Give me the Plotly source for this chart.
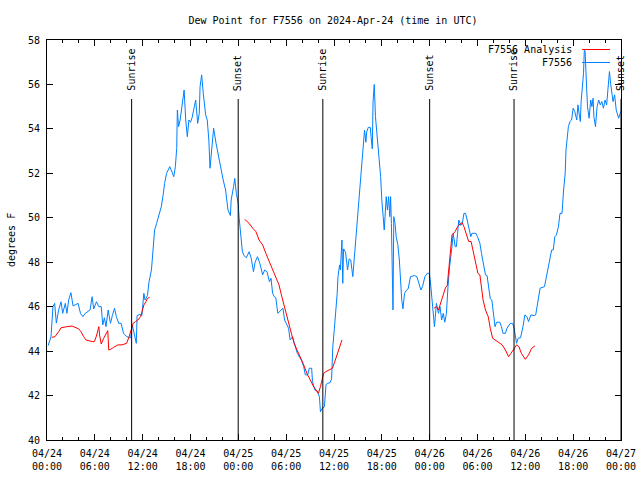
import pandas as pd
import plotly.graph_objects as go

BASE = pd.Timestamp("2024-04-24 00:00")

# Observations (hours since 2024-04-24 00:00 UTC, degrees F)
obs_hours = [0.15, 0.5, 0.75, 0.96, 1.17, 1.46, 1.76, 1.97, 2.3, 2.5, 2.72, 3.0, 3.27, 3.9, 4.2, 4.5, 4.8,
             5.4, 5.66, 5.86, 6.2, 6.5, 6.8, 7.0, 7.2, 7.4, 7.67, 7.96, 8.2, 8.47, 8.7, 9.0, 9.3, 9.6,
             10.0, 10.5, 10.7, 11.0, 11.2, 11.3, 11.65, 11.9, 12.15, 12.3, 12.6, 12.8, 13.1, 13.3, 13.5,
             13.75, 14.04, 14.34, 14.6, 14.75, 15.0, 15.4, 15.7, 15.9, 16.1, 16.27, 16.35, 16.5, 16.7,
             17.0, 17.2, 17.4, 17.6, 17.8, 18.0, 18.2, 18.4, 18.65, 18.9, 19.1, 19.2, 19.4, 19.6, 19.9,
             20.1, 20.3, 20.45, 20.6, 20.9, 21.2, 21.5, 21.8, 22.1, 22.4, 22.7, 23.0, 23.1, 23.4, 23.55,
             23.75, 23.98, 24.1, 24.3, 24.5, 24.7, 25.0, 25.35, 25.6, 25.9, 26.1, 26.4, 26.7, 27.05,
             27.3, 27.6, 27.9, 28.1, 28.3, 28.5, 28.7, 28.95, 29.3, 29.6, 29.8, 30.0, 30.3, 30.5, 30.8,
             31.2, 31.4, 31.9, 32.2, 32.4, 32.7, 32.9, 33.2, 33.3, 33.6, 33.9, 34.17, 34.3, 34.45, 34.8,
             35.0, 35.2, 35.5, 35.7, 35.85, 36.05, 36.26, 36.4, 36.5, 36.7, 36.8, 37.0, 37.1, 37.2,
             37.45, 37.7, 37.9, 38.1, 38.36, 38.6, 38.8, 38.95, 39.1, 39.3, 39.4, 39.6, 39.7, 39.83,
             40.0, 40.1, 40.3, 40.55, 40.65, 40.8, 40.9, 41.05, 41.2, 41.4, 41.6, 41.7, 41.85, 42.0,
             42.15, 42.3, 42.4, 42.55, 42.7, 42.85, 43.0, 43.1, 43.2, 43.3, 43.4, 43.5, 43.65, 43.8,
             44.0, 44.2, 44.35, 44.5, 44.65, 44.85, 45.1, 45.3, 45.6, 46.1, 46.4, 46.6, 46.9, 47.1,
             47.4, 47.7, 47.95, 48.1, 48.2, 48.35, 48.5, 48.6, 48.85, 49.1, 49.3, 49.5, 49.7, 49.9,
             50.1, 50.3, 50.5, 50.8, 50.95, 51.2, 51.35, 51.5, 51.65, 51.9, 52.1, 52.3, 52.5, 52.7,
             52.9, 53.16, 53.3, 53.8, 54.0, 54.3, 54.5, 54.7, 55.0, 55.2, 55.35, 55.6, 55.8, 55.9,
             56.1, 56.2, 56.4, 56.8, 57.0, 57.2, 57.5, 57.7, 58.1, 58.4, 58.6, 58.8, 58.9, 59.1, 59.4,
             59.7, 59.95, 60.2, 60.4, 60.7, 61.1, 61.3, 61.6, 61.85, 62.4, 62.7, 62.9, 63.1, 63.3,
             63.5, 63.7, 63.9, 64.15, 64.35, 64.6, 64.8, 65.0, 65.1, 65.3, 65.4, 65.6, 65.8, 66.0,
             66.2, 66.45, 66.6, 66.8, 66.9, 67.0, 67.3, 67.4, 67.5, 67.7, 67.8, 68.0, 68.2, 68.35,
             68.5, 68.6, 68.8, 69.0, 69.2, 69.4, 69.6, 69.8, 70.0, 70.2, 70.4, 70.55, 70.7, 70.9,
             71.0, 71.2, 71.4, 71.7, 71.85, 72.0]
obs_values = [44.25, 44.65, 46.0, 46.15, 45.26, 45.85, 46.22, 45.7, 46.15, 45.7, 46.3, 46.63, 46.03, 46.15,
              45.7, 45.55, 45.7, 45.85, 46.45, 45.9, 46.22, 46.0, 46.0, 45.18, 45.5, 45.1, 45.85, 45.25,
              45.6, 45.93, 45.55, 45.25, 45.25, 44.8, 44.65, 44.6, 45.18, 44.75, 44.35, 45.6, 45.65,
              45.6, 46.6, 46.3, 46.5, 47.12, 47.65, 48.55, 49.45, 49.75, 50.13, 50.5, 51.1, 51.55, 52.0,
              52.3, 52.05, 51.85, 52.3, 53.12, 54.85, 54.1, 54.4, 55.15, 55.75, 54.4, 53.65, 54.4, 54.3,
              54.5, 54.85, 55.3, 54.25, 54.7, 55.9, 56.43, 55.6, 54.63, 54.4, 53.5, 52.23, 52.9, 54.03,
              53.36, 52.75, 52.15, 51.7, 51.25, 50.35, 50.1, 50.8, 51.4, 51.77, 51.1, 50.65, 50.0, 49.3,
              48.5, 48.3, 48.2, 48.47, 48.2, 47.57, 48.0, 48.25, 47.95, 47.43, 47.65, 47.57, 47.12,
              47.28, 46.6, 46.45, 46.4, 45.7, 45.85, 45.93, 45.4, 45.25, 45.03, 44.5, 44.65, 44.13,
              43.9, 43.6, 43.3, 42.93, 42.93, 43.23, 43.23, 42.63, 42.25, 42.2, 41.95, 41.27, 41.4,
              41.5, 42.5, 42.55, 42.58, 42.75, 44.2, 45.03, 45.8, 46.6, 47.35, 47.88, 47.65, 49.0,
              47.05, 48.6, 48.45, 47.65, 48.15, 48.1, 47.35, 48.5, 49.3, 50.0, 50.8, 51.4, 52.15, 52.83,
              53.5, 53.95, 53.4, 53.86, 54.07, 54.07, 53.65, 53.1, 55.23, 56.0, 54.55, 53.8, 53.05,
              52.68, 51.85, 50.8, 50.05, 49.45, 50.05, 50.95, 50.35, 50.95, 50.05, 50.95, 49.75, 47.2,
              45.85, 50.05, 49.75, 49.15, 48.8, 48.1, 46.9, 46.3, 45.9, 46.6, 46.75, 46.8, 47.35, 47.4,
              47.35, 47.1, 46.75, 46.9, 47.35, 47.5, 47.5, 47.1, 46.6, 45.85, 45.5, 45.1, 46.15, 45.7,
              46.0, 45.4, 45.7, 45.3, 45.7, 46.9, 47.8, 48.7, 49.3, 48.7, 48.7, 49.3, 49.9, 49.66,
              49.75, 50.2, 50.2, 49.9, 49.6, 49.15, 49.3, 49.3, 49.15, 48.85, 48.4, 48.02, 47.43, 47.4,
              46.9, 46.36, 46.3, 46.0, 45.4, 45.1, 45.3, 45.3, 45.1, 44.8, 44.8, 45.03, 45.25, 45.25,
              45.03, 44.5, 44.35, 44.58, 44.6, 45.1, 45.63, 45.55, 45.33, 45.63, 45.6, 45.63, 46.3,
              46.83, 46.9, 47.5, 47.8, 48.25, 48.55, 48.55, 49.15, 49.23, 49.6, 50.2, 50.2, 51.25, 52.0,
              53.05, 53.65, 54.1, 54.33, 54.4, 54.93, 54.78, 54.4, 55.08, 54.55, 54.33, 55.23, 56.5,
              57.55, 57.48, 55.75, 55.0, 54.48, 55.3, 55.0, 55.38, 54.55, 54.1, 55.0, 55.3, 55.08,
              55.23, 54.93, 55.3, 55.08, 55.9, 56.58, 56.05, 55.45, 55.23, 55.53, 54.85, 54.48, 54.63,
              54.8]

# Analysis segments (hours since 2024-04-24 00:00 UTC, degrees F)
ana1_hours = [0.6, 1.0, 1.46, 1.76, 2.5, 3.14, 3.98, 4.27, 4.6, 4.9, 5.66, 5.95, 6.2, 6.5, 6.6, 6.8, 7.1,
              7.45, 7.62, 7.75, 8.0, 8.35, 8.9, 9.4, 9.98, 10.3, 10.56, 10.8, 11.1, 11.4, 11.74, 11.95,
              12.16, 12.4, 12.6, 12.87]
ana1_values = [44.62, 44.65, 44.87, 45.05, 45.1, 45.13, 45.0, 44.87, 44.65, 44.5, 44.43, 44.43, 44.68,
               45.1, 44.72, 44.32, 44.57, 44.82, 44.92, 44.05, 44.08, 44.17, 44.28, 44.28, 44.35, 44.65,
               44.98, 45.25, 45.33, 45.4, 45.55, 45.78, 46.08, 46.22, 46.37, 46.42]
ana2_hours = [24.8, 25.35, 25.8, 26.2, 26.6, 27.05, 27.45, 27.9, 28.3, 28.7, 29.1, 29.4, 29.77, 30.1, 30.4,
              30.7, 31.0, 31.4, 31.8, 32.2, 32.6, 33.0, 33.45, 33.75, 34.04, 34.3, 34.5, 34.7, 35.0,
              35.4, 35.8, 36.1, 36.4, 36.7, 37.0]
ana2_values = [49.93, 49.75, 49.53, 49.38, 49.0, 48.78, 48.4, 48.02, 47.65, 47.35, 46.98, 46.53, 46.0,
               45.48, 45.1, 44.73, 44.35, 44.05, 43.75, 43.38, 43.0, 42.7, 42.4, 42.25, 42.1, 42.4,
               42.7, 43.0, 43.08, 43.15, 43.23, 43.53, 43.83, 44.13, 44.5]
ana3_hours = [48.55, 48.85, 49.1, 49.4, 49.7, 50.0, 50.2, 50.4, 50.6, 50.8, 51.2, 51.5, 51.8, 52.07, 52.3,
              52.6, 52.9, 53.2, 53.45, 53.7, 54.05, 54.3, 54.5, 54.7, 55.0, 55.35, 55.6, 55.9, 56.3,
              56.7, 57.1, 57.5, 57.9, 58.2, 58.6, 58.9, 59.2, 59.5, 60.0, 60.4, 60.8, 61.2]
ana3_values = [45.93, 46.0, 45.85, 46.22, 46.6, 46.87, 46.93, 47.8, 48.55, 49.23, 49.38, 49.6, 49.72,
               49.78, 49.6, 49.23, 48.93, 48.93, 48.55, 48.1, 47.5, 47.43, 46.9, 46.3, 45.85, 45.55,
               45.03, 44.58, 44.48, 44.38, 44.28, 44.05, 43.75, 43.9, 44.13, 44.28, 44.2, 43.9, 43.63,
               43.83, 44.13, 44.23]

# Sun events
event_times = ["2024-04-24 10:37", "2024-04-24 23:59", "2024-04-25 10:36",
               "2024-04-26 00:00", "2024-04-26 10:35", "2024-04-27 00:00"]
event_labels = ["Sunrise", "Sunset", "Sunrise", "Sunset", "Sunrise", "Sunset"]

tick_times = pd.date_range("2024-04-24 00:00", "2024-04-27 00:00", freq="6h")
tick_labels = [t.strftime("%m/%d<br>%H:%M") for t in tick_times]

def to_time(hours):
    return [BASE + pd.Timedelta(hours=h) for h in hours]

ana_x = to_time(ana1_hours) + [None] + to_time(ana2_hours) + [None] + to_time(ana3_hours)
ana_y = ana1_values + [None] + ana2_values + [None] + ana3_values

BLUE = "#0080ff"
RED = "#ff0000"
FONT = "DejaVu Sans Mono"

fig = go.Figure()
fig.add_trace(go.Scatter(x=to_time(obs_hours), y=obs_values, mode="lines",
                         line=dict(color=BLUE, width=1), name="F7556"))
fig.add_trace(go.Scatter(x=ana_x, y=ana_y, mode="lines", connectgaps=False,
                         line=dict(color=RED, width=1), name="F7556 Analysis"))

L, R, T, B = 47, 19, 40, 40
W, H = 640 - L - R, 480 - T - B

def px(x):
    return (x - L) / W

def py(y):
    return (480 - B - y) / H

shapes = []
annotations = []
for t, lab in zip(event_times, event_labels):
    shapes.append(dict(type="line", xref="x", yref="paper", x0=t, x1=t, y0=0, y1=py(99),
                       line=dict(color="black", width=1)))
    annotations.append(dict(x=t, y=py(93), xref="x", yref="paper", text=lab, textangle=-90,
                            showarrow=False, xanchor="center", yanchor="bottom",
                            font=dict(family=FONT, size=10, color="black")))

# legend (gnuplot style: text then sample)
for label, color, yy in [("F7556 Analysis", RED, 49.5), ("F7556", BLUE, 62.5)]:
    annotations.append(dict(x=px(574), y=py(yy), xref="paper", yref="paper", text=label,
                            showarrow=False, xanchor="right", yanchor="middle",
                            font=dict(family=FONT, size=10, color="black")))
    shapes.append(dict(type="line", xref="paper", yref="paper", x0=px(582), x1=px(610),
                       y0=py(yy), y1=py(yy), line=dict(color=color, width=1)))

annotations.append(dict(x=px(11), y=0.5, xref="paper", yref="paper", text="degrees F",
                        textangle=-90, showarrow=False, xanchor="center", yanchor="middle",
                        font=dict(family=FONT, size=10, color="black")))

fig.update_layout(
    width=640, height=480,
    margin=dict(l=L, r=R, t=T, b=B, autoexpand=False),
    paper_bgcolor="white", plot_bgcolor="white",
    showlegend=False,
    font=dict(family=FONT, size=10, color="black"),
    title=dict(text="Dew Point for F7556 on 2024-Apr-24 (time in UTC)", xref="container",
               x=333 / 640, xanchor="center", y=1 - 20 / 480, yanchor="middle", automargin=False,
               font=dict(family=FONT, size=10, color="black")),
    shapes=shapes, annotations=annotations,
)
fig.update_xaxes(range=[tick_times[0], tick_times[-1]], tickvals=tick_times, ticktext=tick_labels,
                 ticks="inside", ticklen=6, tickcolor="black", showline=True, linecolor="black",
                 linewidth=1, mirror="ticks", showgrid=False, zeroline=False, automargin=False,
                 ticklabelstandoff=4,
                 minor=dict(dtick=2 * 3600 * 1000, ticks="inside", ticklen=3, tickcolor="black",
                            showgrid=False),
                 tickfont=dict(family=FONT, size=10, color="black"))
fig.update_yaxes(range=[40, 58], dtick=2, ticks="inside", ticklen=6, tickcolor="black",
                 showline=True, linecolor="black", linewidth=1, mirror="ticks", showgrid=False,
                 zeroline=False, ticklabelstandoff=4, automargin=False,
                 tickfont=dict(family=FONT, size=10, color="black"))

fig.write_html("out.html", config={"displayModeBar": False},
               post_script="document.body.style.margin='0';")
